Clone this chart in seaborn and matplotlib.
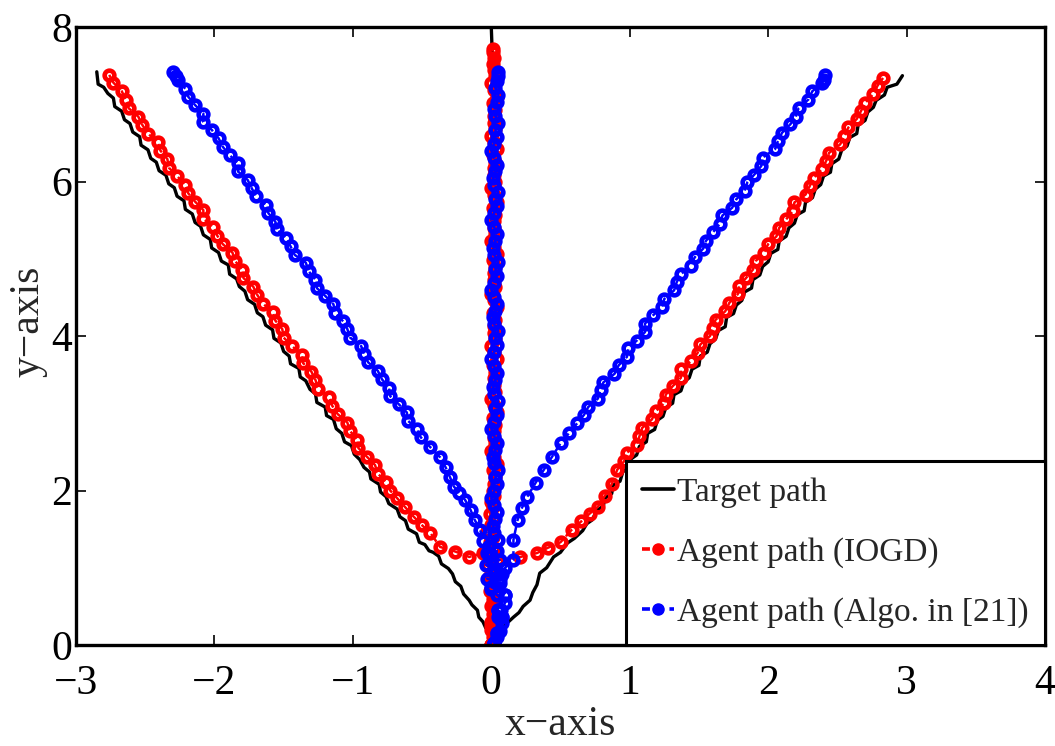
import matplotlib
matplotlib.use("Agg")
import matplotlib.pyplot as plt
import seaborn as sns
from matplotlib.lines import Line2D

# ---------------- data ----------------
x_ticks = [-3, -2, -1, 0, 1, 2, 3, 4]
y_ticks = [0, 2, 4, 6, 8]
legend_labels = ["Target path", "Agent path (IOGD)", "Agent path (Algo. in [21])"]

# Target path (black) – three branches
target_left_x = [0.00, -0.04, -0.06, -0.09, -0.10, -0.14, -0.16, -0.20, -0.22, -0.26, -0.28, -0.31, -0.36, -0.38,
                 -0.42, -0.45, -0.48, -0.52, -0.54, -0.60, -0.62, -0.66, -0.68, -0.74, -0.76, -0.80, -0.81, -0.87,
                 -0.88, -0.92, -0.95, -0.99, -1.01, -1.06, -1.08, -1.12, -1.14, -1.19, -1.20, -1.26, -1.27, -1.31,
                 -1.34, -1.38, -1.39, -1.45, -1.46, -1.50, -1.52, -1.57, -1.58, -1.63, -1.65, -1.69, -1.71, -1.76,
                 -1.78, -1.82, -1.84, -1.89, -1.90, -1.95, -1.97, -2.02, -2.03, -2.08, -2.10, -2.14, -2.16, -2.21,
                 -2.22, -2.27, -2.29, -2.33, -2.35, -2.40, -2.42, -2.46, -2.48, -2.53, -2.54, -2.59, -2.61, -2.65,
                 -2.67, -2.72, -2.73, -2.77, -2.80, -2.84, -2.85]
target_left_y = [0.19, 0.22, 0.30, 0.36, 0.45, 0.52, 0.58, 0.66, 0.76, 0.82, 0.92, 0.99, 1.05, 1.15,
                 1.20, 1.22, 1.30, 1.33, 1.44, 1.50, 1.61, 1.66, 1.76, 1.83, 1.92, 1.98, 2.08, 2.15,
                 2.24, 2.30, 2.40, 2.47, 2.58, 2.63, 2.74, 2.80, 2.92, 2.97, 3.08, 3.14, 3.25, 3.31,
                 3.42, 3.47, 3.58, 3.64, 3.74, 3.80, 3.91, 3.97, 4.08, 4.14, 4.25, 4.30, 4.41, 4.47,
                 4.58, 4.64, 4.74, 4.80, 4.92, 4.97, 5.08, 5.14, 5.25, 5.31, 5.42, 5.47, 5.58, 5.64,
                 5.75, 5.81, 5.92, 5.97, 6.08, 6.14, 6.25, 6.30, 6.41, 6.47, 6.58, 6.64, 6.75, 6.80,
                 6.91, 6.97, 7.08, 7.14, 7.22, 7.26, 7.42]
target_right_x = [0.00, 0.06, 0.10, 0.16, 0.20, 0.23, 0.28, 0.30, 0.33, 0.35, 0.40, 0.45, 0.50, 0.55,
                  0.60, 0.66, 0.69, 0.73, 0.76, 0.81, 0.82, 0.87, 0.88, 0.93, 0.95, 0.99, 1.01, 1.05,
                  1.07, 1.12, 1.13, 1.18, 1.20, 1.24, 1.26, 1.31, 1.32, 1.37, 1.39, 1.43, 1.45, 1.50,
                  1.51, 1.56, 1.58, 1.62, 1.64, 1.69, 1.70, 1.75, 1.77, 1.81, 1.83, 1.88, 1.89, 1.94,
                  1.96, 2.00, 2.02, 2.07, 2.08, 2.13, 2.15, 2.19, 2.21, 2.26, 2.27, 2.32, 2.34, 2.38,
                  2.40, 2.45, 2.46, 2.51, 2.53, 2.57, 2.59, 2.64, 2.65, 2.70, 2.72, 2.76, 2.78, 2.84,
                  2.86, 2.93, 2.97]
target_right_y = [0.10, 0.16, 0.26, 0.36, 0.42, 0.50, 0.58, 0.68, 0.78, 0.93, 1.00, 1.14, 1.20, 1.32,
                  1.38, 1.48, 1.57, 1.62, 1.74, 1.80, 1.90, 1.96, 2.07, 2.12, 2.24, 2.30, 2.41, 2.46,
                  2.57, 2.63, 2.74, 2.79, 2.91, 2.96, 3.07, 3.13, 3.24, 3.29, 3.40, 3.46, 3.57, 3.62,
                  3.74, 3.79, 3.90, 3.96, 4.07, 4.12, 4.24, 4.29, 4.40, 4.46, 4.57, 4.62, 4.73, 4.79,
                  4.90, 4.96, 5.07, 5.12, 5.23, 5.29, 5.40, 5.46, 5.57, 5.62, 5.73, 5.79, 5.90, 5.96,
                  6.07, 6.12, 6.23, 6.29, 6.40, 6.46, 6.57, 6.62, 6.73, 6.79, 6.90, 6.96, 7.05, 7.12,
                  7.22, 7.26, 7.37]
target_mid_x = [0.00, 0.01, 0.00, 0.02, 0.01, 0.02, 0.01, 0.02, 0.01, 0.02, 0.01, 0.02, 0.01, 0.02, 0.01, 0.01, 0.00]
target_mid_y = [0.00, 0.50, 1.00, 1.50, 2.00, 2.50, 3.00, 3.50, 4.00, 4.50, 5.00, 5.50, 6.00, 6.50, 7.00, 7.50, 8.00]

# Agent path (IOGD) – red
iogd_left_x = [0.00, 0.00, 0.01, 0.00, -0.02, -0.06, -0.16, -0.26, -0.37, -0.44, -0.50, -0.56, -0.62, -0.68,
               -0.73, -0.76, -0.82, -0.84, -0.90, -0.96, -0.97, -1.02, -1.04, -1.11, -1.15, -1.17, -1.25, -1.27,
               -1.30, -1.36, -1.37, -1.44, -1.50, -1.51, -1.56, -1.58, -1.65, -1.69, -1.72, -1.79, -1.80, -1.85,
               -1.87, -1.94, -1.98, -2.01, -2.08, -2.08, -2.14, -2.19, -2.21, -2.27, -2.33, -2.34, -2.39, -2.41,
               -2.48, -2.52, -2.55, -2.62, -2.64, -2.67, -2.73, -2.76]
iogd_left_y = [0.00, 0.25, 0.55, 0.85, 1.10, 1.19, 1.14, 1.21, 1.27, 1.45, 1.55, 1.66, 1.78, 1.90,
               2.00, 2.11, 2.22, 2.33, 2.44, 2.55, 2.66, 2.77, 2.88, 2.99, 3.10, 3.21, 3.32, 3.43,
               3.54, 3.65, 3.76, 3.87, 3.98, 4.09, 4.20, 4.31, 4.42, 4.53, 4.64, 4.75, 4.86, 4.97,
               5.08, 5.19, 5.30, 5.41, 5.52, 5.63, 5.74, 5.85, 5.96, 6.07, 6.18, 6.29, 6.40, 6.51,
               6.62, 6.73, 6.84, 6.95, 7.06, 7.17, 7.28, 7.38]
iogd_right_x = [0.00, 0.00, 0.01, 0.02, 0.05, 0.21, 0.33, 0.41, 0.50, 0.58, 0.65, 0.71, 0.77, 0.82, 0.87,
                0.91, 0.96, 0.98, 1.05, 1.07, 1.09, 1.16, 1.19, 1.25, 1.26, 1.31, 1.37, 1.37, 1.44, 1.49,
                1.51, 1.58, 1.60, 1.62, 1.69, 1.72, 1.78, 1.79, 1.84, 1.89, 1.91, 1.97, 2.00, 2.06, 2.08,
                2.13, 2.18, 2.19, 2.27, 2.30, 2.33, 2.39, 2.42, 2.44, 2.52, 2.55, 2.58, 2.64, 2.67, 2.70,
                2.76, 2.79, 2.83]
iogd_right_y = [0.00, 0.30, 0.60, 0.90, 1.10, 1.14, 1.19, 1.26, 1.33, 1.49, 1.60, 1.70, 1.79, 1.93, 2.08,
                2.27, 2.38, 2.49, 2.59, 2.70, 2.81, 2.92, 3.03, 3.13, 3.24, 3.35, 3.46, 3.57, 3.67, 3.78,
                3.89, 4.00, 4.11, 4.21, 4.32, 4.43, 4.54, 4.65, 4.75, 4.86, 4.97, 5.08, 5.19, 5.29, 5.40,
                5.51, 5.62, 5.73, 5.83, 5.94, 6.05, 6.16, 6.27, 6.37, 6.48, 6.59, 6.70, 6.81, 6.91, 7.02,
                7.13, 7.24, 7.34]
iogd_mid_x = [0.00, 0.01, 0.00, 0.02, 0.01, 0.00, 0.02, -0.01, 0.00,
              -0.02, 0.01, -0.03, 0.00, -0.02, 0.02, -0.01, 0.01, -0.03, 0.00, 0.02, -0.01, 0.01, 0.00, 0.02, 0.01,
              0.02, 0.03, 0.01, 0.04, 0.02, 0.00, 0.03, 0.02, 0.02, 0.03, 0.01, 0.04, 0.02, 0.00, 0.03, 0.02,
              0.02, 0.03, 0.01, 0.04, 0.02, 0.00, 0.03, 0.02, 0.02, 0.03, 0.01, 0.04, 0.02, 0.00, 0.03, 0.02,
              0.02, 0.03, 0.01, 0.04, 0.02, 0.00, 0.03, 0.02, 0.02, 0.03, 0.01, 0.04, 0.02, 0.00, 0.03, 0.02,
              0.02, 0.03, 0.01, 0.04, 0.02, 0.00, 0.03, 0.02, 0.02, 0.03, 0.01, 0.04, 0.02, 0.00, 0.03, 0.02,
              0.01, 0.02, 0.01, 0.01]
iogd_mid_y = [0.00, 0.10, 0.20, 0.30, 0.40, 0.50, 0.60, 0.70, 0.80,
              0.88, 0.95, 1.03, 1.10, 1.18, 1.25, 1.33, 1.40, 1.48, 1.55, 1.63, 1.70, 1.78, 1.85, 1.93, 2.00,
              2.09, 2.17, 2.26, 2.34, 2.43, 2.51, 2.60, 2.68, 2.77, 2.85, 2.94, 3.02, 3.11, 3.19, 3.28, 3.36,
              3.45, 3.53, 3.62, 3.70, 3.79, 3.87, 3.96, 4.04, 4.13, 4.21, 4.30, 4.38, 4.47, 4.55, 4.64, 4.72,
              4.81, 4.89, 4.98, 5.06, 5.15, 5.23, 5.32, 5.40, 5.49, 5.57, 5.66, 5.74, 5.83, 5.91, 6.00, 6.08,
              6.17, 6.25, 6.34, 6.42, 6.51, 6.59, 6.68, 6.76, 6.85, 6.93, 7.02, 7.10, 7.19, 7.27, 7.36, 7.44,
              7.52, 7.60, 7.67, 7.72]

# Agent path (Algo. in [21]) – blue
algo_left_x = [0.02, 0.04, 0.08, 0.05, 0.10, 0.00, 0.03, -0.03, -0.06, -0.08, -0.12, -0.15, -0.19, -0.23,
               -0.27, -0.30, -0.33, -0.37, -0.44, -0.51, -0.54, -0.60, -0.61, -0.67, -0.73, -0.74, -0.79,
               -0.82, -0.89, -0.92, -0.94, -1.02, -1.04, -1.07, -1.13, -1.14, -1.20, -1.26, -1.27, -1.32,
               -1.34, -1.42, -1.45, -1.48, -1.55, -1.56, -1.61, -1.63, -1.70, -1.73, -1.76, -1.83, -1.83,
               -1.89, -1.94, -1.97, -2.02, -2.08, -2.08, -2.14, -2.19, -2.21, -2.26, -2.28, -2.30]
algo_left_y = [0.02, 0.15, 0.36, 0.45, 0.65, 0.75, 0.95, 1.19, 1.35, 1.49, 1.62, 1.75, 1.88, 1.97,
               2.05, 2.18, 2.30, 2.43, 2.56, 2.69, 2.80, 2.90, 3.01, 3.12, 3.22, 3.33, 3.44,
               3.55, 3.66, 3.77, 3.87, 3.98, 4.09, 4.19, 4.30, 4.41, 4.52, 4.62, 4.73, 4.84,
               4.95, 5.05, 5.16, 5.27, 5.38, 5.48, 5.59, 5.70, 5.81, 5.91, 6.02, 6.13, 6.24,
               6.34, 6.45, 6.56, 6.67, 6.77, 6.88, 6.99, 7.10, 7.20, 7.31, 7.36, 7.42]
algo_right_x = [0.02, 0.04, 0.08, 0.05, 0.10, 0.06, 0.10, 0.16, 0.16, 0.19, 0.22, 0.26, 0.32, 0.38, 0.44,
                0.50, 0.56, 0.62, 0.67, 0.70, 0.77, 0.79, 0.81, 0.89, 0.92, 0.98, 0.99, 1.05, 1.11, 1.11,
                1.17, 1.23, 1.25, 1.32, 1.34, 1.37, 1.44, 1.47, 1.53, 1.55, 1.60, 1.65, 1.67, 1.74, 1.77,
                1.83, 1.85, 1.90, 1.95, 1.96, 2.05, 2.07, 2.10, 2.16, 2.20, 2.22, 2.29, 2.32, 2.39, 2.40,
                2.41]
algo_right_y = [0.02, 0.15, 0.36, 0.45, 0.65, 0.85, 1.00, 1.10, 1.36, 1.62, 1.77, 1.92, 2.10, 2.27, 2.44,
                2.61, 2.74, 2.87, 2.98, 3.08, 3.19, 3.30, 3.40, 3.51, 3.62, 3.73, 3.84, 3.94, 4.05, 4.16,
                4.27, 4.37, 4.48, 4.59, 4.70, 4.80, 4.91, 5.02, 5.13, 5.23, 5.34, 5.45, 5.56, 5.66, 5.77,
                5.88, 5.99, 6.09, 6.20, 6.31, 6.42, 6.52, 6.63, 6.74, 6.84, 6.95, 7.06, 7.17, 7.27, 7.31,
                7.38]
algo_mid_x = [0.02, 0.04, 0.06, 0.08, 0.05, 0.07, 0.10, 0.04, 0.00, 0.06, -0.03, 0.08, 0.02, -0.04, 0.06,
              0.00, 0.04, -0.02,
              0.05, 0.02, 0.01, 0.03, 0.04, 0.02, 0.00, 0.02, 0.04, 0.03,
              0.05, 0.02, 0.01, 0.03, 0.04, 0.02, 0.00, 0.02, 0.04, 0.03,
              0.05, 0.02, 0.01, 0.03, 0.04, 0.02, 0.00, 0.02, 0.04, 0.03,
              0.05, 0.02, 0.01, 0.03, 0.04, 0.02, 0.00, 0.02, 0.04, 0.03,
              0.05, 0.02, 0.01, 0.03, 0.04, 0.02, 0.00, 0.02, 0.04, 0.03,
              0.05, 0.02, 0.01, 0.03, 0.04, 0.02, 0.00, 0.02, 0.04, 0.03,
              0.05, 0.03, 0.02, 0.04, 0.05, 0.03, 0.04,
              0.05, 0.05]
algo_mid_y = [0.02, 0.10, 0.18, 0.28, 0.36, 0.45, 0.55, 0.65, 0.72, 0.80, 0.86, 0.92, 0.98, 1.04, 1.10,
              1.16, 1.22, 1.28,
              1.36, 1.45, 1.54, 1.63, 1.72, 1.81, 1.90, 1.99, 2.08, 2.17,
              2.26, 2.35, 2.44, 2.53, 2.62, 2.71, 2.80, 2.89, 2.98, 3.07,
              3.16, 3.25, 3.34, 3.43, 3.52, 3.61, 3.70, 3.79, 3.88, 3.97,
              4.06, 4.15, 4.24, 4.33, 4.42, 4.51, 4.60, 4.69, 4.78, 4.87,
              4.96, 5.05, 5.14, 5.23, 5.32, 5.41, 5.50, 5.59, 5.68, 5.77,
              5.86, 5.95, 6.04, 6.13, 6.22, 6.31, 6.40, 6.49, 6.58, 6.67,
              6.76, 6.85, 6.94, 7.03, 7.12, 7.21, 7.30,
              7.36, 7.42]

# ---------------- style ----------------
sns.set_style("ticks")
plt.rcParams["font.family"] = ["Liberation Serif", "DejaVu Serif"]
plt.rcParams["axes.unicode_minus"] = True

W, H = 1055, 746
fig = plt.figure(figsize=(W / 100, H / 100), dpi=100)
L, R, T, B = 76, 1045, 27, 645
ax = fig.add_axes([L / W, 1 - B / H, (R - L) / W, (B - T) / H])

RED = "#ff0000"
BLUE = "#0000ff"


def target(xs, ys):
    sns.lineplot(x=xs, y=ys, sort=False, estimator=None, color="black",
                 linewidth=2.4, ax=ax, legend=False)


def agent(xs, ys, color):
    sns.lineplot(x=xs, y=ys, sort=False, estimator=None, color=color,
                 linestyle="--", linewidth=1.8, marker="o", markersize=7,
                 markeredgewidth=3.3, markerfacecolor="none",
                 markeredgecolor=color, ax=ax, legend=False)


target(target_left_x, target_left_y)
target(target_right_x, target_right_y)
target(target_mid_x, target_mid_y)

agent(iogd_left_x, iogd_left_y, RED)
agent(iogd_right_x, iogd_right_y, RED)
agent(iogd_mid_x, iogd_mid_y, RED)

agent(algo_left_x, algo_left_y, BLUE)
agent(algo_right_x, algo_right_y, BLUE)
agent(algo_mid_x, algo_mid_y, BLUE)

ax.set_xlim(-3, 4)
ax.set_ylim(0, 8)
ax.set_xticks(x_ticks)
ax.set_yticks(y_ticks)
ax.tick_params(axis="both", direction="in", length=7, width=1.2,
               top=True, right=True, labelsize=30, colors="black")
ax.tick_params(axis="x", pad=14)
ax.tick_params(axis="y", pad=3)
for sp in ax.spines.values():
    sp.set_visible(True)
    sp.set_linewidth(2.4)
    sp.set_color("black")

ax.set_xlabel("x\u2212axis", fontsize=30)
ax.set_ylabel("y\u2212axis", fontsize=30)
ax.xaxis.set_label_coords(0.5, -0.098)
ax.yaxis.set_label_coords(-0.029, 0.523)

handles = [
    Line2D([], [], color="black", linewidth=2.6),
    Line2D([], [], color=RED, linestyle=(0, (2.2, 1.6)), linewidth=2.6, marker="o",
           markersize=8, markerfacecolor=RED, markeredgecolor=RED),
    Line2D([], [], color=BLUE, linestyle=(0, (2.2, 1.6)), linewidth=2.6, marker="o",
           markersize=8, markerfacecolor=BLUE, markeredgecolor=BLUE),
]
leg = ax.legend(handles, legend_labels, loc="lower right", bbox_to_anchor=(1, 0),
                borderaxespad=0, fontsize=24, frameon=True, fancybox=False,
                handlelength=0.95, handletextpad=0.08, labelspacing=0.88,
                borderpad=0.5, numpoints=1)
fr = leg.get_frame()
fr.set_edgecolor("black")
fr.set_linewidth(2.2)
fr.set_facecolor("white")
fr.set_alpha(1)

fig.savefig("out.png", dpi=100)
